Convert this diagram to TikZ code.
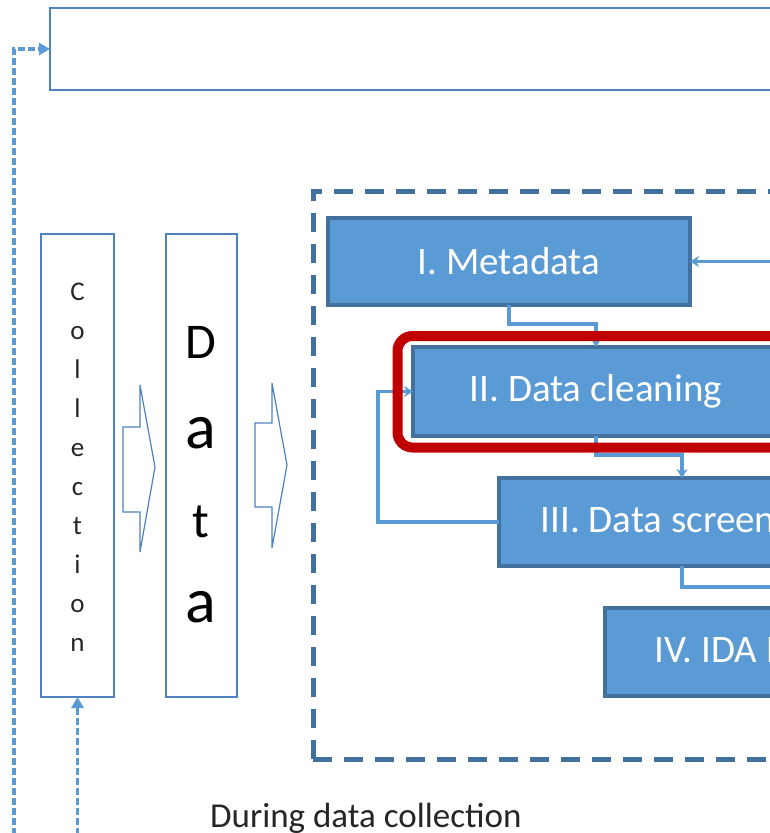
\documentclass[tikz,border=0pt]{standalone}
\usepackage{fontspec}
\setmainfont{Carlito}
\usetikzlibrary{arrows.meta}
\definecolor{lblue}{HTML}{5B9BD5}
\definecolor{dblue}{HTML}{41719C}
\definecolor{oblue}{HTML}{4F81BD}
\definecolor{hred}{HTML}{C00000}
\begin{document}
\begin{tikzpicture}[x=1pt,y=-1pt,
  thinbox/.style={draw=oblue, line width=1.8pt, inner sep=0pt, outer sep=0pt},
  blockarrow/.style={draw=oblue, line width=1.2pt, fill=white},
  proc/.style={draw=dblue, fill=lblue, line width=4.5pt, text=white, inner sep=0pt, outer sep=0pt,
    anchor=north west, minimum width=366pt, font=\fontsize{39}{46}\selectfont},
  conn/.style={draw=lblue, line width=3.5pt, -{Stealth[length=9pt,width=11pt]}},
  plainconn/.style={draw=lblue, line width=3.5pt},
  dasharr/.style={draw=lblue, line width=3.5pt, dash pattern=on 7pt off 3pt, -{Triangle[length=11pt,width=12pt]}},
  frame/.style={draw=dblue, line width=5pt, dash pattern=on 19pt off 12pt},
  hilite/.style={draw=hred, line width=10pt, rounded corners=15pt, inner sep=0pt, outer sep=0pt, anchor=north west},
  colletter/.style={font=\fontsize{27}{32}\selectfont, text=black!85, anchor=base, inner sep=0pt},
  dataletter/.style={font=\fontsize{50}{60}\selectfont, text=black, anchor=base, inner sep=0pt},
  lbl/.style={font=\fontsize{35}{42}\selectfont, text=black!85, anchor=base west, inner sep=0pt}
]
\useasboundingbox (0,0) rectangle (770,833);
\clip (0,0) rectangle (770,833);

% top box
\node[thinbox, anchor=north west, minimum width=780pt, minimum height=82pt] (top) at (50,8) {};

% collection and data boxes
\node[thinbox, anchor=north west, minimum width=73pt, minimum height=463pt] (coll) at (41,234) {};
\node[thinbox, anchor=north west, minimum width=71pt, minimum height=463pt] (data) at (166,234) {};

\foreach \l [count=\i] in {C,o,l,l,e,c,t,i,o,n}
  \node[colletter] (c\i) at (77.5,{300+39*(\i-1)}) {\l};

\node[dataletter] (d1) at (201,358) {D};
\node[dataletter, font=\fontsize{64}{70}\selectfont] (d2) at (201,448) {a};
\node[dataletter] (d3) at (201,537) {t};
\node[dataletter, font=\fontsize{64}{70}\selectfont] (d4) at (201,622) {a};

% block arrows
\draw[blockarrow] (123,427) -- (140,427) -- (140,385) -- (155,467) -- (140,552) -- (140,512) -- (123,512) -- cycle;
\draw[blockarrow] (255,423) -- (272,423) -- (272,383) -- (287,465) -- (272,548) -- (272,507) -- (255,507) -- cycle;

% dashed frame
\draw[frame] (313,759) -- (313,191) -- (800,191);
\draw[frame] (313,759) -- (800,759);

% process boxes
\node[proc, minimum width=362pt, minimum height=87pt] (meta) at (328,218) {I. Metadata};
\node[proc, minimum height=89pt] (clean) at (413,347) {II. Data cleaning};
\node[proc, minimum height=88pt] (screen) at (499,478) {III. Data screening};
\node[proc, minimum height=88pt] (ida) at (605,608) {IV. IDA Reporting};

% connectors
\coordinate (inR) at (800,261.5);
\coordinate (outR) at (800,587);
\draw[conn] (inR) -- (meta.east);
\draw[conn] (meta.south) -- ++(0,19) -| (clean.north);
\draw[conn] (clean.south) -- ++(0,19) -| (screen.north);
\draw[conn] (screen.west) -- ++(-121,0) |- (clean.west);
\draw[plainconn] (screen.south) |- (outR);

% highlight
\node[hilite, minimum width=420pt, minimum height=111.5pt] (hl) at (397.5,336) {};

% dashed feedback arrows
\coordinate (lb) at (14,845);
\coordinate (cb) at (77.5,845);
\draw[dasharr] (lb) |- (top.west);
\draw[dasharr] (cb) -- (coll.south);

% label
\node[lbl] (during) at (210,827) {During data collection};
\end{tikzpicture}
\end{document}
